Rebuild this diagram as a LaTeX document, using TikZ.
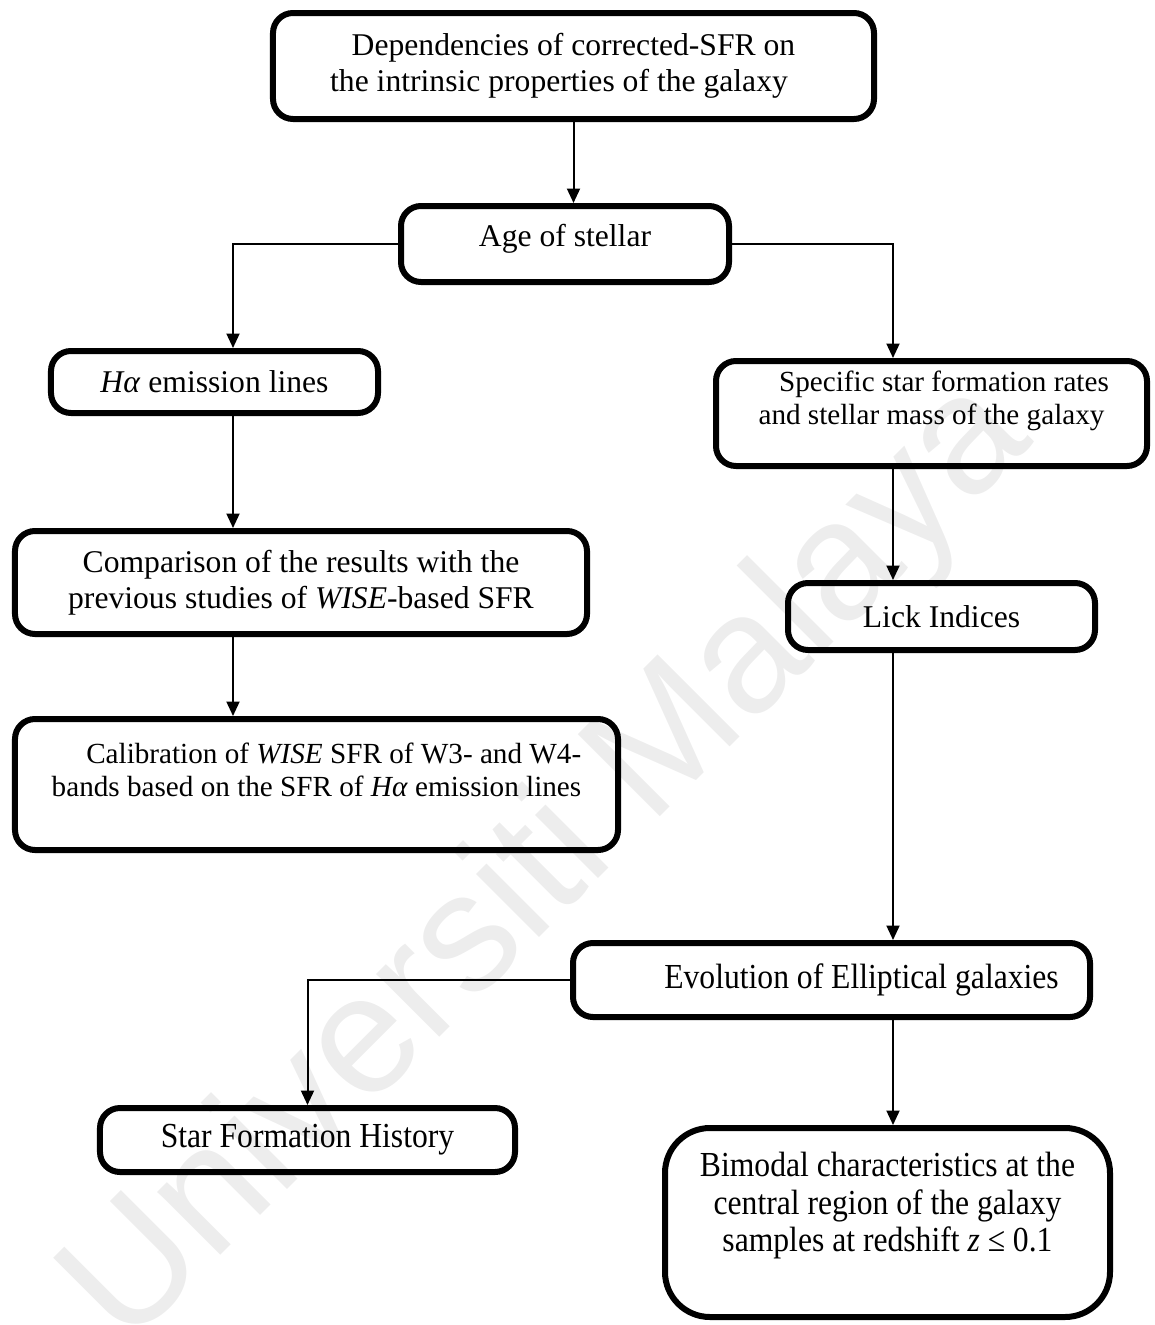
\documentclass[tikz,border=0pt]{standalone}
\usepackage{fontspec}
\setmainfont{Liberation Serif}
\newfontfamily\tallserif[FakeStretch=0.9]{Liberation Serif}
\newfontfamily\markfont{Liberation Sans}
\usepackage{tikz}
\usetikzlibrary{arrows.meta, positioning, calc}

\tikzset{
  flowbox/.style={draw, line width=1.2mm, rounded corners=4mm, align=center,
    font=\fontsize{18}{20.5}\selectfont},
  smallbox/.style={flowbox, font=\fontsize{16.6}{19}\selectfont},
  tallbox/.style={flowbox, font=\tallserif\fontsize{20}{21.5}\selectfont},
  raised/.style={text depth=#1},
  link/.style={line width=0.4mm}
}

\begin{document}
\begin{tikzpicture}[x=0.2mm, y=-0.2mm, >={Triangle[length=2.9mm,width=2.6mm]}]
  \useasboundingbox (0,0) rectangle (1154,1325);

  % watermark
  \node[text=black!7, font=\markfont\fontsize{96}{96}\selectfont, rotate=45] (watermark) at (550,865) {Universiti Malaya};

  % boxes
  \node[flowbox, minimum width=120.2mm, minimum height=21.2mm] (dependencies) at (573.5,66)
    {Dependencies of corrected-SFR on\\the intrinsic properties of the galaxy\hspace*{5.8mm}};
  \node[flowbox, minimum width=65.6mm, minimum height=15.2mm, raised=3.5mm] (age) at (565,244) {Age of stellar};
  \node[flowbox, minimum width=65.4mm, minimum height=12.4mm] (halpha) at (214.5,382) {\textit{Hα} emission lines};
  \node[smallbox, minimum width=86.2mm, minimum height=21mm, raised=6.4mm] (ssfr) at (931.5,413.5)
    {\hspace*{5mm}Specific star formation rates\\and stellar mass of the galaxy};
  \node[flowbox, minimum width=114.4mm, minimum height=20.6mm] (comparison) at (301,582.5)
    {Comparison of the results with the\\previous studies of \textit{WISE}-based SFR};
  \node[smallbox, align=right, minimum width=120.6mm, minimum height=26.2mm, raised=6mm] (calibration) at (316.5,784.5)
    {Calibration of \textit{WISE} SFR of W3- and W4-\\bands based on the SFR of \textit{Hα} emission lines};
  \node[flowbox, minimum width=61.4mm, minimum height=13.4mm] (lick) at (941.5,616.5) {Lick Indices};
  \node[tallbox, minimum width=103.4mm, minimum height=14.8mm] (evolution) at (831.5,980)
    {\hspace*{12mm}Evolution of Elliptical galaxies};
  \node[tallbox, minimum width=83mm, minimum height=12.8mm] (sfh) at (307.5,1140) {Star Formation History};
  \node[tallbox, rounded corners=9mm, minimum width=89mm, minimum height=37.8mm, raised=8.2mm] (bimodal) at (887.5,1222.5)
    {Bimodal characteristics at the\\central region of the galaxy\\samples at redshift \textit{z} ≤ 0.1};

  % columns of the vertical links
  \coordinate (leftcol) at (233,0);
  \coordinate (rightcol) at (893,0);

  % links
  \draw[link, ->] (dependencies.south) -- (dependencies.south |- age.north);
  \draw[link, ->] (age.west) -| (halpha.north -| leftcol);
  \draw[link, ->] (age.east) -| (ssfr.north -| rightcol);
  \draw[link, ->] (halpha.south -| leftcol) -- (comparison.north -| leftcol);
  \draw[link, ->] (comparison.south -| leftcol) -- (calibration.north -| leftcol);
  \draw[link, ->] (ssfr.south -| rightcol) -- (lick.north -| rightcol);
  \draw[link, ->] (lick.south -| rightcol) -- (evolution.north -| rightcol);
  \draw[link, ->] (evolution.west) -| (sfh.north);
  \draw[link, ->] (evolution.south -| rightcol) -- (bimodal.north -| rightcol);
\end{tikzpicture}
\end{document}
